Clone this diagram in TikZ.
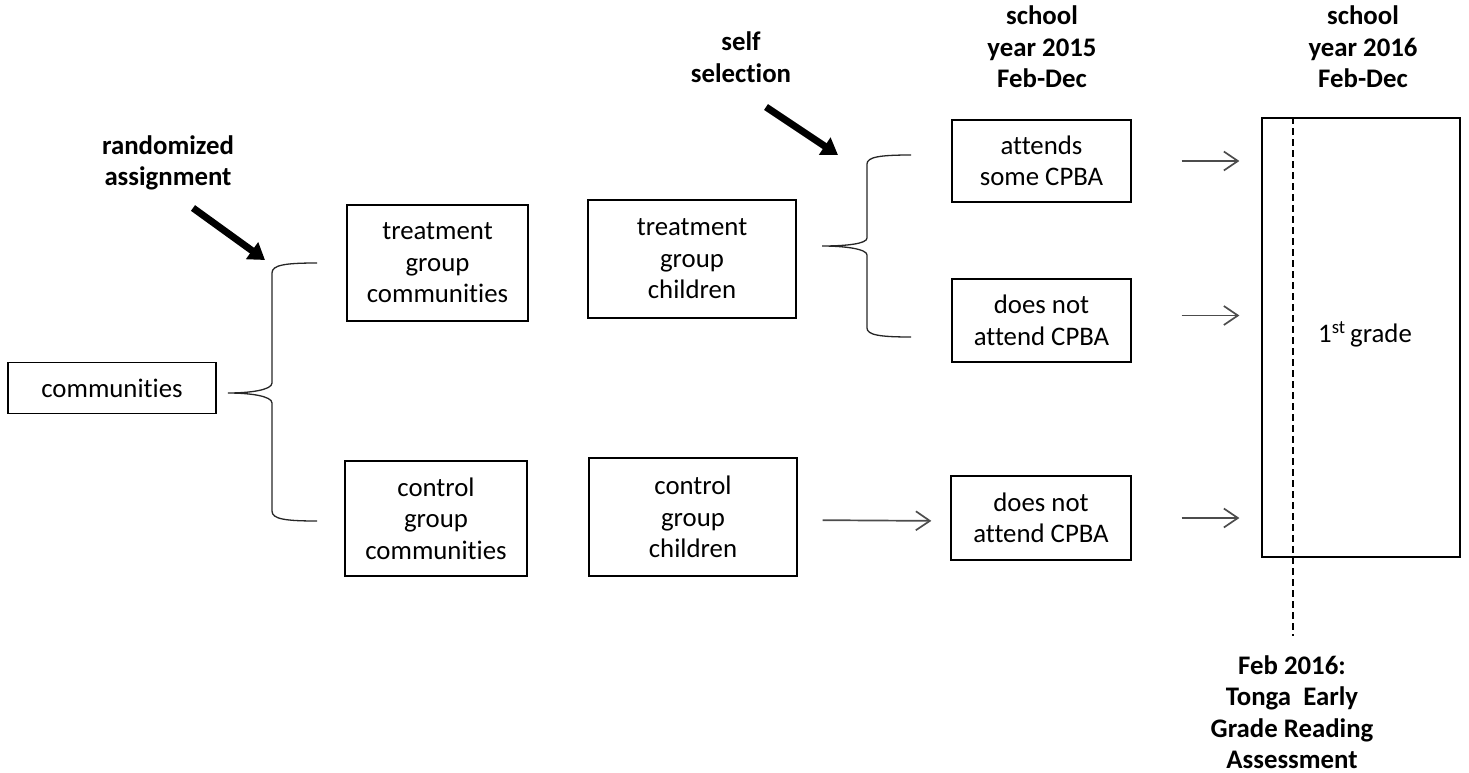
\documentclass[tikz,border=0pt]{standalone}
\usepackage{fontspec}
\setmainfont{Carlito}[Ligatures={NoCommon}]
\usetikzlibrary{arrows.meta}
\begin{document}
\begin{tikzpicture}[x=1pt,y=-1pt,
  box/.style={draw=black, line width=1.3pt, align=center, inner sep=0pt,
    font=\fontsize{26.8}{31.5}\selectfont},
  lbl/.style={align=center, inner sep=0pt, font=\fontsize{26.8}{31.5}\selectfont\bfseries},
  fat/.style={line width=7pt, -{Triangle[length=16pt,width=20pt]}},
  flow/.style={line width=1.7pt, draw=black!70, -{Straight Barb[length=14pt,width=19pt,line width=1.7pt]}},
  brace/.style={line width=1.3pt, draw=black!85},
  dashline/.style={line width=1.3pt, dash pattern=on 7pt off 4pt}]
\useasboundingbox (0,0) rectangle (1469,773);

% boxes
\node[box, minimum width=208, minimum height=51] (comm) at (112,388) {communities};
\node[box, minimum width=181, minimum height=116] (tgc) at (437.5,263) {treatment\\group\\communities};
\node[box, minimum width=182, minimum height=115] (cgc) at (436,518.5) {control\\group\\communities};
\node[box, minimum width=208, minimum height=118] (tgch) at (692,259) {treatment\\group\\children};
\node[box, minimum width=208, minimum height=118] (cgch) at (693,517) {control\\group\\children};
\node[box, minimum width=179, minimum height=82] (att) at (1041.5,161) {attends\\some CPBA};
\node[box, minimum width=179, minimum height=83] (dna1) at (1041.5,320.5) {does not\\attend CPBA};
\node[box, minimum width=180, minimum height=84] (dna2) at (1041,518) {does not\\attend CPBA};
\node[box, minimum width=198, minimum height=439] (grade) at (1361,337.5) {};
\node[inner sep=0pt, font=\fontsize{26.8}{31.5}\selectfont] (gradetxt) at (1365,334) {1\textsuperscript{st}\,grade};

% labels
\node[lbl] (rand) at (168,163) {randomized\\assignment};
\node[lbl] (self) at (741,57) {self\\selection};
\node[lbl] (sy15) at (1042,47) {school\\year 2015\\Feb-Dec};
\node[lbl] (sy16) at (1363,47) {school\\year 2016\\Feb-Dec};
\node[lbl] (egra) at (1292,712) {Feb 2016:\\Tonga~~Early\\Grade Reading\\Assessment};

% fat arrows
\coordinate (r1) at (193,208);
\coordinate (r2) at (265,260);
\coordinate (s1) at (766,107);
\coordinate (s2) at (838,155);
\draw[fat] (r1) -- (r2);
\draw[fat] (s1) -- (s2);

% braces
\draw[brace] (317,263) .. controls (285,263) and (272,265) .. (272,273) -- (272,383)
  .. controls (272,390) and (250,393) .. (228,393)
  .. controls (250,393) and (272,396) .. (272,403) -- (272,511)
  .. controls (272,519) and (285,521) .. (317,521);
\draw[brace] (911,155) .. controls (880,155) and (867,157) .. (867,164) -- (867,238)
  .. controls (867,244) and (845,246) .. (822,246)
  .. controls (845,246) and (867,249) .. (867,255) -- (867,328)
  .. controls (867,335) and (880,337) .. (911,337);

% thin arrows
\draw[flow, shorten <=25pt, shorten >=19pt] ([yshift=-3pt]cgch.east) -- ([yshift=-3pt]dna2.west);
\draw[flow, shorten <=50pt, shorten >=22pt] (att.east) -- (att.east -| grade.west);
\draw[flow, shorten <=50pt, shorten >=22pt] ([yshift=5pt]dna1.east) -- ([yshift=5pt]dna1.east -| grade.west);
\draw[flow, shorten <=50pt, shorten >=22pt] (dna2.east) -- (dna2.east -| grade.west);

% dashed line
\coordinate (dtop) at ([xshift=-68pt]grade.north);
\coordinate (dbot) at (1293,636);
\draw[dashline] (dtop) -- (dbot);
\end{tikzpicture}
\end{document}
